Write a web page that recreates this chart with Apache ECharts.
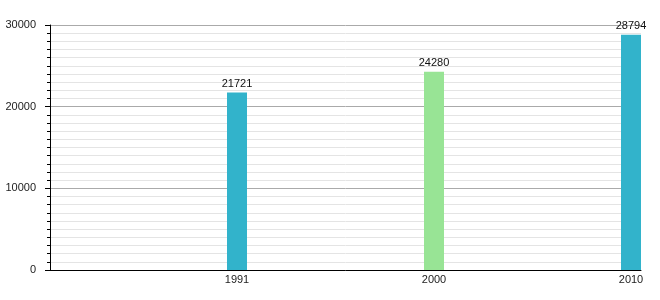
<!DOCTYPE html>
<html>
<head>
<meta charset="utf-8">
<script src="https://cdn.jsdelivr.net/npm/echarts@6/dist/echarts.min.js"></script>
<style>html,body{margin:0;padding:0;background:#fff}#c{width:660px;height:300px}</style>
</head>
<body>
<div id="c"></div>
<script>
const categories = ['1991', '2000', '2010'];
const populations = [21721, 24280, 28794];
const barColors = ['#32b3cb', '#98e495', '#32b3cb'];
const yTicks = [0, 10000, 20000, 30000];

const chart = echarts.init(document.getElementById('c'), null, {renderer: 'canvas'});
const font = 'Liberation Sans, Arial, sans-serif';
chart.setOption({
  animation: false,
  grid: {left: 50, right: 19, top: 25, bottom: 30, containLabel: false},
  xAxis: {
    type: 'category',
    data: categories,
    boundaryGap: true,
    axisLine: {lineStyle: {color: '#000', width: 1}},
    axisTick: {show: false},
    axisLabel: {interval: 0, color: '#222', fontFamily: font, fontSize: 11, margin: 4, padding: [0, 0, 0, 177]},
    splitLine: {show: false}
  },
  yAxis: {
    type: 'value',
    min: yTicks[0],
    max: yTicks[yTicks.length - 1],
    interval: 10000,
    axisLine: {show: true, lineStyle: {color: '#000', width: 1}},
    axisTick: {show: true, length: 5, lineStyle: {color: '#000'}},
    minorTick: {show: true, splitNumber: 10, length: 3, lineStyle: {color: '#000'}},
    axisLabel: {color: '#222', fontFamily: font, fontSize: 11, margin: 14, formatter: (v) => String(v)},
    splitLine: {show: true, lineStyle: {color: '#aaaaaa', width: 1}},
    minorSplitLine: {show: true, lineStyle: {color: '#e4e4e4', width: 1}}
  },
  series: [
    {
      type: 'bar',
      name: 'spacer',
      data: categories.map(() => 0),
      barWidth: 177,
      barGap: '0%',
      barCategoryGap: '0%',
      itemStyle: {color: 'rgba(0,0,0,0)'},
      silent: true,
      label: {show: false}
    },
    {
      type: 'bar',
      name: 'population',
      data: populations.map((v, i) => ({value: v, itemStyle: {color: barColors[i]}})),
      barWidth: 20,
      barGap: '0%',
      barCategoryGap: '0%',
      label: {show: true, position: 'top', distance: 3, color: '#111', fontFamily: font, fontSize: 11}
    }
  ]
});
</script>
</body>
</html>
